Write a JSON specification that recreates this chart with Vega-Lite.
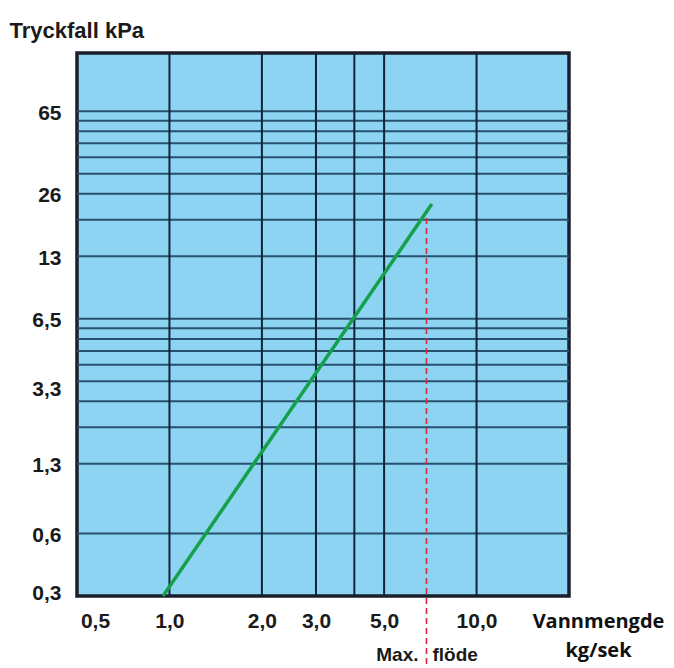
{
  "$schema": "https://vega.github.io/schema/vega-lite/v6.json",
  "width": 492,
  "height": 543,
  "autosize": {"type": "none"},
  "padding": {"left": 77, "top": 53, "right": 105, "bottom": 72},
  "background": "white",
  "view": {"fill": "#8dd4f3", "stroke": "#1b1f2b", "strokeWidth": 3.5},
  "datasets": {
    "hgrid": [
      {"kPa": 0.6}, {"kPa": 1.3}, {"kPa": 1.95}, {"kPa": 2.6}, {"kPa": 3.25},
      {"kPa": 3.9}, {"kPa": 4.55}, {"kPa": 5.2}, {"kPa": 5.85}, {"kPa": 6.5},
      {"kPa": 13}, {"kPa": 19.5}, {"kPa": 26}, {"kPa": 32.5}, {"kPa": 39},
      {"kPa": 45.5}, {"kPa": 52}, {"kPa": 58.5}, {"kPa": 65}
    ],
    "vgrid": [
      {"flow": 1}, {"flow": 2}, {"flow": 3}, {"flow": 4}, {"flow": 5}, {"flow": 10}
    ],
    "curve": [
      {"flow": 0.953, "kPa": 0.3},
      {"flow": 7.15, "kPa": 23.2}
    ],
    "maxflow": [
      {"flow": 6.87, "top": 19.9, "bottom": 0.1}
    ],
    "notes": [
      {"flow": 6.87, "kPa": 0.156, "text": "Max.", "side": "left"},
      {"flow": 6.87, "kPa": 0.156, "text": "flöde", "side": "right"}
    ]
  },
  "encoding": {
    "x": {
      "field": "flow", "type": "quantitative",
      "scale": {"type": "log", "domain": [0.5, 20], "nice": false},
      "axis": {
        "values": [0.5, 1, 2, 3, 5, 10],
        "labelExpr": "replace(format(datum.value, '.1f'), '.', ',')",
        "grid": false, "ticks": false, "domain": false,
        "labelFont": "Liberation Sans", "labelFontWeight": "bold",
        "labelFontSize": 21, "labelColor": "#1a1a1a",
        "labelPadding": 14, "labelFlush": false, "labelOverlap": false,
        "labelOffset": {"condition": {"test": "datum.value == 0.5", "value": 18}, "value": 0},
        "title": ["Vannmengde", "kg/sek"],
        "titleX": 521, "titleY": 15, "titleAlign": "center",
        "titleBaseline": "top", "titleLineHeight": 29,
        "titleFont": "Open Sans", "titleFontWeight": "bold",
        "titleFontSize": 20, "titleColor": "#111111"
      }
    },
    "y": {
      "field": "kPa", "type": "quantitative",
      "scale": {"type": "log", "domain": [0.3, 124], "nice": false},
      "axis": {
        "values": [0.3, 0.6, 1.3, 3.3, 6.5, 13, 26, 65],
        "labelExpr": "replace('' + datum.value, '.', ',')",
        "grid": false, "ticks": false, "domain": false,
        "labelFont": "Liberation Sans", "labelFontWeight": "bold",
        "labelFontSize": 21, "labelColor": "#1a1a1a",
        "labelPadding": 16,
        "labelOffset": {"condition": [{"test": "datum.value == 3.3", "value": 10}, {"test": "datum.value == 0.3", "value": -3}], "value": 2},
        "labelOverlap": false,
        "title": "Tryckfall kPa",
        "titleAngle": 0, "titleAlign": "left", "titleBaseline": "middle",
        "titleX": -68, "titleY": -23,
        "titleFont": "Liberation Sans", "titleFontWeight": "bold",
        "titleFontSize": 22, "titleColor": "#1a1a1a"
      }
    }
  },
  "layer": [
    {
      "data": {"name": "hgrid"},
      "mark": {"type": "rule", "color": "#27506d", "strokeWidth": 2},
      "encoding": {
        "x": null
      }
    },
    {
      "data": {"name": "vgrid"},
      "mark": {"type": "rule", "color": "#112336", "strokeWidth": 2},
      "encoding": {
        "y": null
      }
    },
    {
      "data": {"name": "curve"},
      "mark": {"type": "line", "color": "#15a04c", "strokeWidth": 3.5},
      "encoding": {}
    },
    {
      "data": {"name": "maxflow"},
      "mark": {"type": "rule", "color": "#d8283f", "strokeWidth": 1.6, "strokeDash": [6, 4]},
      "encoding": {
        "y": {"field": "top", "type": "quantitative"},
        "y2": {"field": "bottom"}
      }
    },
    {
      "data": {"name": "notes"},
      "transform": [{"filter": "datum.side == 'left'"}],
      "mark": {"type": "text", "align": "right", "baseline": "middle", "dx": -8,
               "font": "Liberation Sans", "fontWeight": "bold", "fontSize": 19, "color": "#1a1a1a"},
      "encoding": {
        "text": {"field": "text"}
      }
    },
    {
      "data": {"name": "notes"},
      "transform": [{"filter": "datum.side == 'right'"}],
      "mark": {"type": "text", "align": "left", "baseline": "middle", "dx": 6,
               "font": "Liberation Sans", "fontWeight": "bold", "fontSize": 19, "color": "#1a1a1a"},
      "encoding": {
        "text": {"field": "text"}
      }
    }
  ]
}
